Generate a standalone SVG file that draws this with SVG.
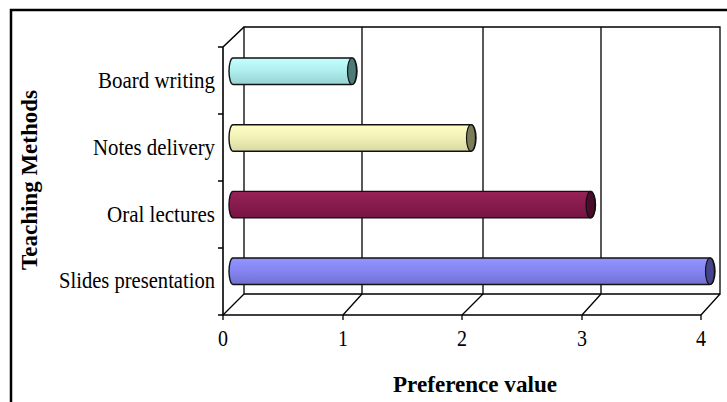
<svg xmlns="http://www.w3.org/2000/svg" width="727" height="402" viewBox="0 0 727 402">
<style>
.ln{stroke:#000;stroke-width:1.3;fill:none}
.ax{stroke:#000;stroke-width:1.6;fill:none}
.lbl{font-family:"Liberation Serif","Times New Roman",serif;font-size:23px;fill:#000}
.tick{font-family:"Liberation Serif","Times New Roman",serif;font-size:23px;fill:#000;text-anchor:middle}
.ttl{font-family:"Liberation Serif","Times New Roman",serif;font-size:23px;font-weight:bold;fill:#000;text-anchor:middle}
.bar{stroke:#111;stroke-width:1.4}
.cap{stroke:#111;stroke-width:1.2}
</style>
<defs>
<linearGradient id="gc" x1="0" y1="0" x2="0" y2="1"><stop offset="0" stop-color="#c4ffff"/><stop offset="0.45" stop-color="#b0f0f0"/><stop offset="1" stop-color="#98d2d2"/></linearGradient>
<linearGradient id="gy" x1="0" y1="0" x2="0" y2="1"><stop offset="0" stop-color="#ffffc8"/><stop offset="0.45" stop-color="#f2f2b8"/><stop offset="1" stop-color="#d8d8a2"/></linearGradient>
<linearGradient id="gm" x1="0" y1="0" x2="0" y2="1"><stop offset="0" stop-color="#962258"/><stop offset="0.45" stop-color="#8a1c4f"/><stop offset="1" stop-color="#741542"/></linearGradient>
<linearGradient id="gb" x1="0" y1="0" x2="0" y2="1"><stop offset="0" stop-color="#9494ff"/><stop offset="0.45" stop-color="#8686f4"/><stop offset="1" stop-color="#7070d0"/></linearGradient>
</defs>
<rect width="727" height="402" fill="#fff"/>
<path d="M11,402 L11,10 L727,10" stroke="#000" stroke-width="2.5" fill="none"/>
<g id="axes">
<path class="ln" d="M244,27 H720 V294 H244 Z M362,27 V294 M483,27 V294 M601,27 V294"/>
<path class="ax" d="M223,47 V315 H701 M223,47 L244,27"/>
<path class="ln" d="M218,47 H223 M218,114 H223 M218,181 H223 M218,248 H223 M218,315 H223"/>
<path class="ln" d="M223,315 V320 M343,315 V320 M462,315 V320 M582,315 V320 M701,315 V320"/>
<path class="ln" d="M223,315 L244,294 M343,315 L362,294 M462,315 L483,294 M582,315 L601,294 M701,315 L720,294"/>
</g>
<g id="bar-board-writing">
<path class="bar" fill="url(#gc)" d="M233,58 H352 A5,13.25 0 0 1 352,84.5 H233 A4,13.25 0 0 1 233,58 Z"/>
<ellipse class="cap" cx="352" cy="71.25" rx="4.5" ry="13.25" fill="#4e7a78"/>
</g>
<g id="bar-notes-delivery">
<path class="bar" fill="url(#gy)" d="M233,124.7 H471 A5,13.25 0 0 1 471,151.2 H233 A4,13.25 0 0 1 233,124.7 Z"/>
<ellipse class="cap" cx="471" cy="137.95" rx="4.5" ry="13.25" fill="#7c7c5a"/>
</g>
<g id="bar-oral-lectures">
<path class="bar" fill="url(#gm)" d="M233,191.4 H590.5 A5,13.25 0 0 1 590.5,217.9 H233 A4,13.25 0 0 1 233,191.4 Z"/>
<ellipse class="cap" cx="590.5" cy="204.65" rx="4.5" ry="13.25" fill="#4a0c2a"/>
</g>
<g id="bar-slides-presentation">
<path class="bar" fill="url(#gb)" d="M233,258 H710 A5,13.25 0 0 1 710,284.5 H233 A4,13.25 0 0 1 233,258 Z"/>
<ellipse class="cap" cx="710" cy="271.25" rx="4.5" ry="13.25" fill="#44448a"/>
</g>
<g id="labels">
<text class="lbl" x="215" y="88" text-anchor="end" textLength="117" lengthAdjust="spacingAndGlyphs">Board writing</text>
<text class="lbl" x="215" y="155" text-anchor="end" textLength="122" lengthAdjust="spacingAndGlyphs">Notes delivery</text>
<text class="lbl" x="215" y="221.5" text-anchor="end" textLength="108" lengthAdjust="spacingAndGlyphs">Oral lectures</text>
<text class="lbl" x="215" y="288" text-anchor="end" textLength="156" lengthAdjust="spacingAndGlyphs">Slides presentation</text>
<text class="tick" x="223" y="346" textLength="10" lengthAdjust="spacingAndGlyphs">0</text>
<text class="tick" x="343" y="346" textLength="10" lengthAdjust="spacingAndGlyphs">1</text>
<text class="tick" x="462" y="346" textLength="10" lengthAdjust="spacingAndGlyphs">2</text>
<text class="tick" x="582" y="346" textLength="10" lengthAdjust="spacingAndGlyphs">3</text>
<text class="tick" x="701" y="346" textLength="10" lengthAdjust="spacingAndGlyphs">4</text>
<text class="ttl" x="475" y="391.5" textLength="164" lengthAdjust="spacingAndGlyphs">Preference value</text>
<text class="ttl" x="0" y="0" transform="translate(36.5,180) rotate(-90)">Teaching Methods</text>
</g>
</svg>
